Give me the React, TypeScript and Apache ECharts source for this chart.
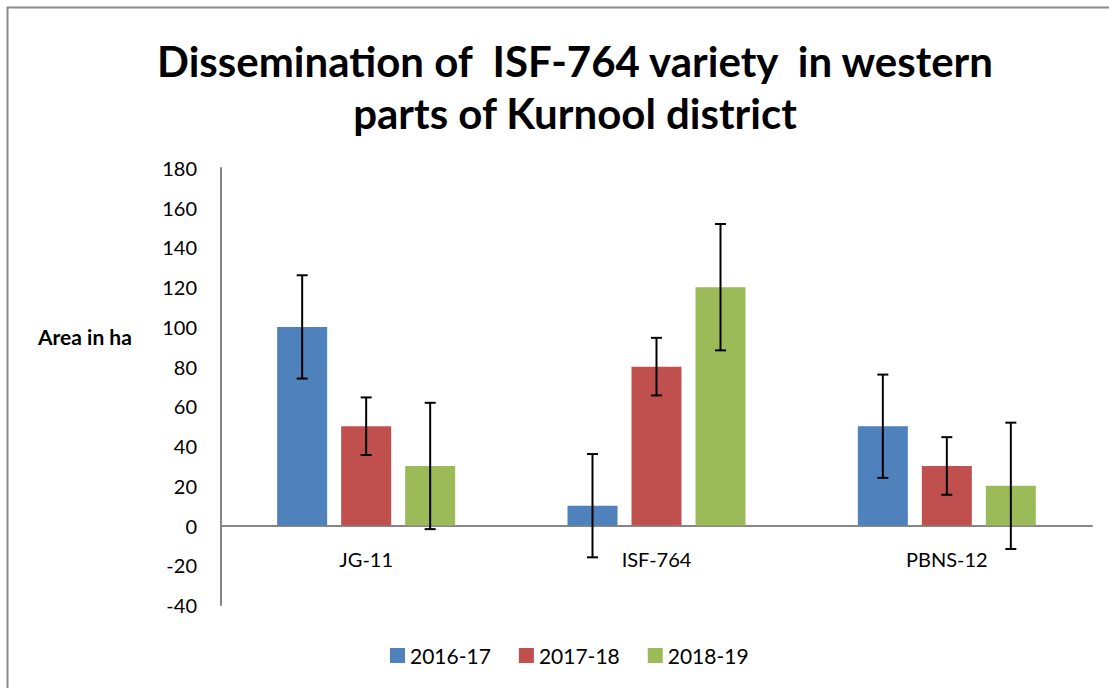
import React, { useEffect, useRef } from "react";
import * as echarts from "echarts";

const categories = ["JG-11", "ISF-764", "PBNS-12"];
const seriesNames = ["2016-17", "2017-18", "2018-19"];
const values2016 = [100, 10, 50];
const values2017 = [50, 80, 30];
const values2018 = [30, 120, 20];
const errors = [26, 14.5, 31.8];
const colors = ["#4F81BD", "#C0504D", "#9BBB59"];
const titleLines = ["Dissemination of  ISF-764 variety  in western", "parts of Kurnool district"];
const yAxisName = "Area in ha";

const FONT = "Lato, 'Open Sans', sans-serif";

export default function App() {
  const ref = useRef<HTMLDivElement>(null);
  useEffect(() => {
    if (!ref.current) return;
    const chart = echarts.init(ref.current, null, { renderer: "svg" });
    const allValues = [values2016, values2017, values2018];
    const barWidth = 50;
    const gapPx = 14;
    const barSeries = allValues.map((vals, i) => ({
      name: seriesNames[i],
      type: "bar",
      data: vals,
      barWidth,
      barGap: (gapPx / barWidth) * 100 + "%",
      itemStyle: { color: colors[i] },
      z: 2,
    }));
    const errSeries = allValues.map((vals, i) => ({
      name: seriesNames[i] + "-err",
      type: "custom",
      data: vals.map((v, k) => [k, v, errors[i]]),
      encode: { x: 0, y: 1 },
      z: 5,
      silent: true,
      renderItem: (params: any, api: any) => {
        const k = api.value(0);
        const v = api.value(1);
        const e = api.value(2);
        const off = (i - 1) * (barWidth + gapPx);
        const top = api.coord([k, v + e]);
        const bot = api.coord([k, v - e]);
        const x = top[0] + off;
        const cap = 5.5;
        const style = { stroke: "#000", lineWidth: 2 };
        return {
          type: "group",
          children: [
            { type: "line", shape: { x1: x, y1: top[1], x2: x, y2: bot[1] }, style },
            { type: "line", shape: { x1: x - cap, y1: top[1], x2: x + cap, y2: top[1] }, style },
            { type: "line", shape: { x1: x - cap, y1: bot[1], x2: x + cap, y2: bot[1] }, style },
          ],
        };
      },
    }));
    chart.setOption({
      animation: false,
      backgroundColor: "#fff",
      textStyle: { fontFamily: FONT },
      grid: { left: 221, right: 17, top: 168, bottom: 83, containLabel: false },
      legend: {
        data: seriesNames,
        bottom: 17,
        left: 385,
        itemWidth: 15,
        itemHeight: 15,
        itemGap: 28,
        icon: "rect",
        textStyle: { fontSize: 21, color: "#000", fontFamily: FONT },
      },
      xAxis: {
        type: "category",
        data: categories,
        axisLine: { onZero: true, lineStyle: { color: "#868686", width: 2 } },
        axisTick: { show: false },
        axisLabel: { fontSize: 20, color: "#000", margin: -56, fontFamily: FONT },
      },
      yAxis: {
        type: "value",
        min: -40,
        max: 180,
        interval: 20,
        splitLine: { show: false },
        axisLine: { show: true, lineStyle: { color: "#868686", width: 2 } },
        axisTick: { show: false },
        axisLabel: { fontSize: 20, color: "#000", margin: 24, fontFamily: FONT },
      },
      graphic: [
        {
          type: "rect",
          shape: { x: 7.5, y: 7.5, width: 1200, height: 800 },
          style: { fill: "none", stroke: "#8C8C8C", lineWidth: 2 },
          silent: true,
        },
        {
          type: "text",
          x: 575,
          y: 35,
          style: {
            text: titleLines.join("\n"),
            fontSize: 42,
            fontWeight: "bold",
            fontFamily: FONT,
            fill: "#000",
            textAlign: "center",
            lineHeight: 52,
          },
        },
        {
          type: "text",
          x: 38,
          y: 326,
          style: {
            text: yAxisName,
            fontSize: 21,
            fontWeight: "bold",
            fontFamily: FONT,
            fill: "#000",
          },
        },
      ],
      series: [...barSeries, ...errSeries],
    });
    return () => chart.dispose();
  }, []);
  return (
    <div
      ref={ref}
      style={{ position: "fixed", left: 0, top: 0, width: 1109, height: 688 }}
    />
  );
}
